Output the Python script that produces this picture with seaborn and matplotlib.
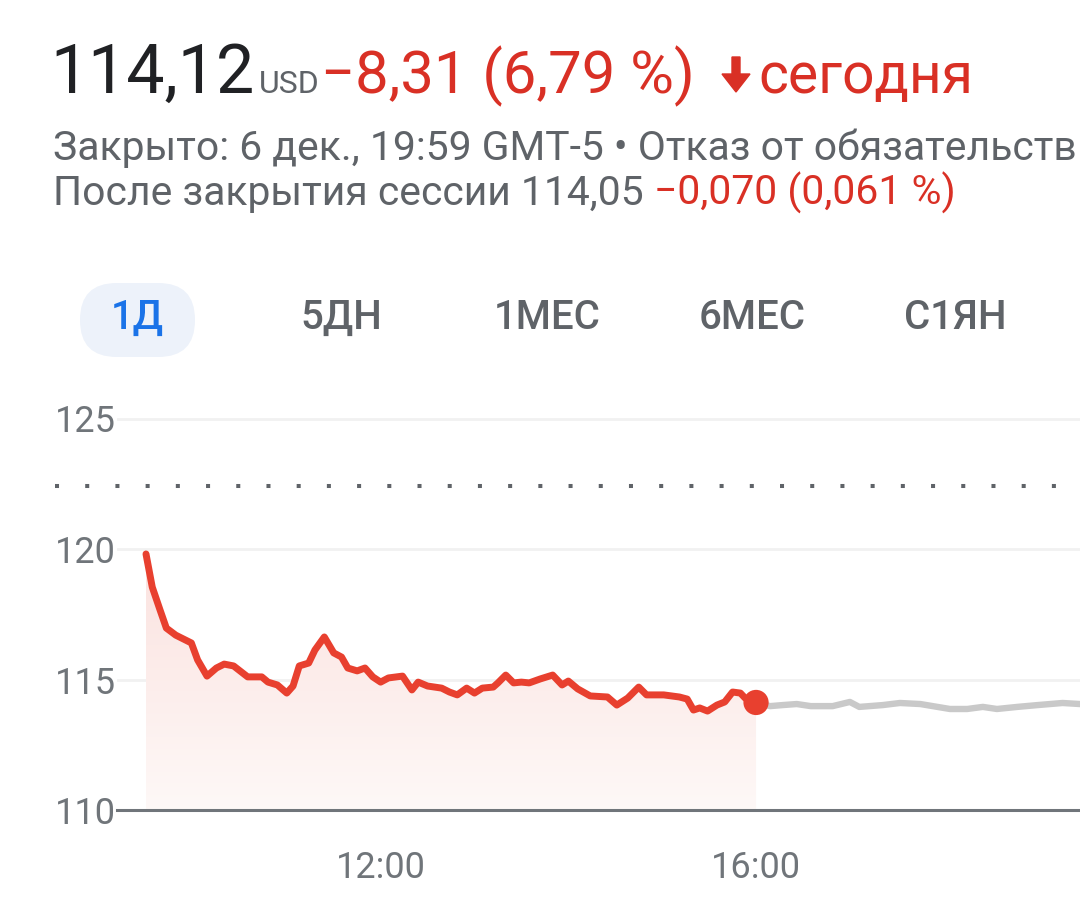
import numpy as np
import pandas as pd
import seaborn as sns
import matplotlib.pyplot as plt
from matplotlib.colors import LinearSegmentedColormap
from matplotlib.patches import FancyBboxPatch, Polygon

# regular session
session_times = ["9:30", "9:34", "9:39", "9:43", "9:49", "9:54", "9:59",
                 "10:03", "10:09", "10:15", "10:20", "10:26", "10:35", "10:44", "10:48", "10:54",
                 "11:00", "11:04", "11:08", "11:14", "11:18", "11:24", "11:30", "11:35", "11:39",
                 "11:45", "11:50", "11:55",
                 "12:00", "12:05", "12:14", "12:20", "12:24", "12:30", "12:39", "12:44", "12:49", "12:55",
                 "13:00", "13:05", "13:12", "13:15", "13:20", "13:25", "13:30", "13:35", "13:42",
                 "13:50", "13:56",
                 "14:00", "14:06", "14:14", "14:25", "14:31", "14:38", "14:45", "14:50",
                 "15:01", "15:11", "15:16", "15:20", "15:24", "15:29", "15:35", "15:40", "15:45",
                 "15:50", "15:53", "16:00"]
session_prices = [119.81, 118.54, 117.66, 116.97, 116.70, 116.55, 116.40,
                  115.75, 115.13, 115.44, 115.59, 115.52, 115.10, 115.10, 114.90, 114.79,
                  114.48, 114.75, 115.52, 115.63, 116.13, 116.63, 116.02, 115.86, 115.44,
                  115.33, 115.44, 115.10,
                  114.90, 115.06, 115.13, 114.60, 114.90, 114.75, 114.67, 114.52, 114.41, 114.67,
                  114.48, 114.67, 114.71, 114.87, 115.17, 114.87, 114.90, 114.87, 115.02,
                  115.17, 114.79,
                  114.94, 114.64, 114.37, 114.33, 114.02, 114.29, 114.71, 114.41,
                  114.41, 114.33, 114.25, 113.83, 113.91, 113.79, 114.02, 114.14, 114.52,
                  114.48, 114.29, 114.12]

# after-hours session (grey line)
after_times = ["16:00", "16:09", "16:17", "16:26", "16:35", "16:49", "17:00", "17:06", "17:21",
               "17:32", "17:45", "17:56", "18:04", "18:15", "18:25", "18:34", "18:47", "19:00",
               "19:08", "19:16", "19:27", "19:59"]
after_prices = [114.12, 113.98, 114.02, 114.06, 113.98, 113.98, 114.14, 113.95, 114.02,
                114.10, 114.06, 113.95, 113.87, 113.87, 113.95, 113.87, 113.95, 114.02,
                114.06, 114.10, 114.06, 114.05]

prev_close = 122.43
y_ticks = [110, 115, 120, 125]
x_tick_labels = ["12:00", "16:00"]
periods = ["1Д", "5ДН", "1МЕС", "6МЕС", "С1ЯН"]

W, H = 1080, 917
RED_LINE = "#e8402f"
RED_TEXT = "#d93025"
GREY_TEXT = "#5f6368"
AXIS_GREY = "#70757a"


def to_hours(t):
    h, m = t.split(":")
    return int(h) + int(m) / 60


def fx(x):
    return x / W


def fy(y):
    return 1 - y / H


def draw_header(fig):
    fig.text(fx(50), fy(93), "114,12", fontsize=49, color="#202124", va="baseline")
    fig.text(fx(259), fy(93), "USD", fontsize=23, color=GREY_TEXT, va="baseline")
    fig.text(fx(321), fy(93), "\u22128,31 (6,79 %)", fontsize=43, color=RED_TEXT, va="baseline")
    # down arrow icon
    arrow = [(732, 57), (740, 57), (740, 74), (750, 74), (736, 92), (722, 74), (732, 74)]
    fig.add_artist(Polygon([(fx(a), fy(b)) for a, b in arrow], closed=True,
                           transform=fig.transFigure, color=RED_TEXT))
    fig.text(fx(758), fy(93), "сегодня", fontsize=41, color=RED_TEXT, va="baseline")

    fig.text(fx(53), fy(160), "Закрыто: 6 дек., 19:59 GMT-5 \u2022 Отказ от обязательств",
             fontsize=29.4, color=GREY_TEXT, va="baseline")
    after = fig.text(fx(53), fy(205), "После закрытия сессии 114,05 ",
                     fontsize=29.4, color=GREY_TEXT, va="baseline")
    # red part follows the grey text
    fig.canvas.draw()
    box = after.get_window_extent(fig.canvas.get_renderer())
    fig.text(box.x1 / W, fy(205), "\u22120,070 (0,061 %)",
             fontsize=29.4, color=RED_TEXT, va="baseline")


def draw_tabs(fig):
    pill = FancyBboxPatch((fx(80), fy(357)), fx(115), (357 - 283) / H,
                          boxstyle="round,pad=0,rounding_size=0.034",
                          transform=fig.transFigure, facecolor="#edf2fa",
                          edgecolor="none", mutation_aspect=W / H)
    fig.add_artist(pill)
    centers = [137, 341, 547, 752, 955]
    for i, (label, cx) in enumerate(zip(periods, centers)):
        fig.text(fx(cx), fy(318), label, fontsize=29, fontweight="medium",
                 color="#1a73e8" if i == 0 else GREY_TEXT, ha="center", va="center")


def draw_chart(fig):
    ax = fig.add_axes([117 / W, (H - 810) / H, 963 / W, 417.6 / H])
    day = pd.DataFrame({"hour": [to_hours(t) for t in session_times], "price": session_prices})
    post = pd.DataFrame({"hour": [to_hours(t) for t in after_times], "price": after_prices})

    # pink gradient under the session line, runs a little below the axis like the app does
    area = ax.fill_between(day["hour"], day["price"], 109.25, color="none", lw=0)
    cmap = LinearSegmentedColormap.from_list("fade", ["#fefaf9", "#fbe2df"])
    grad = np.linspace(1, 0, 256).reshape(-1, 1)
    im = ax.imshow(grad, extent=[day["hour"].min(), day["hour"].max(), 109.25, day["price"].max()],
                   aspect="auto", cmap=cmap, origin="upper", zorder=1)
    im.set_clip_path(area.get_paths()[0], transform=ax.transData)
    im.set_clip_box(None)

    sns.lineplot(data=post, x="hour", y="price", color="#c9c9c9", linewidth=4.6,
                 estimator=None, sort=False, ax=ax, zorder=3)
    sns.lineplot(data=day, x="hour", y="price", color=RED_LINE, linewidth=5,
                 estimator=None, sort=False, ax=ax, zorder=4)
    last = day.iloc[[-1]]
    sns.scatterplot(data=last, x="hour", y="price", color=RED_LINE, s=330,
                    edgecolor="none", ax=ax, zorder=5)

    # previous close, dotted and running past the axes on the left
    ax.axhline(prev_close, xmin=(55 - 117) / 963, xmax=1, clip_on=False,
               color=GREY_TEXT, lw=2.9, linestyle=(0, (1, 6.5)), zorder=2)

    ax.set_xlim(9.191, 19.452)
    ax.set_ylim(110, 126)
    ax.set_yticks(y_ticks)
    ax.set_yticklabels([str(v) for v in y_ticks])
    ax.set_xticks([to_hours(t) for t in x_tick_labels])
    ax.set_xticklabels(x_tick_labels)
    ax.set_xlabel("")
    ax.set_ylabel("")

    ax.yaxis.grid(True, color="#f1f1f1", lw=2)
    ax.xaxis.grid(False)
    ax.set_axisbelow(True)
    for side in ["top", "right", "left"]:
        ax.spines[side].set_visible(False)
    ax.spines["bottom"].set_color(AXIS_GREY)
    ax.spines["bottom"].set_linewidth(2.2)
    ax.spines["bottom"].set_zorder(6)

    ax.tick_params(axis="y", length=0, pad=1, labelsize=26, labelcolor=AXIS_GREY)
    ax.tick_params(axis="x", length=24, width=2, color=AXIS_GREY, direction="out",
                   pad=5, labelsize=26, labelcolor=AXIS_GREY)
    return ax


if __name__ == "__main__":
    sns.set_theme(style="white")
    plt.rcParams["font.family"] = ["Roboto", "DejaVu Sans"]

    fig = plt.figure(figsize=(W / 100, H / 100), dpi=100)
    fig.patch.set_facecolor("white")
    draw_header(fig)
    draw_tabs(fig)
    draw_chart(fig)
    fig.savefig("out.png", dpi=100, facecolor="white")
